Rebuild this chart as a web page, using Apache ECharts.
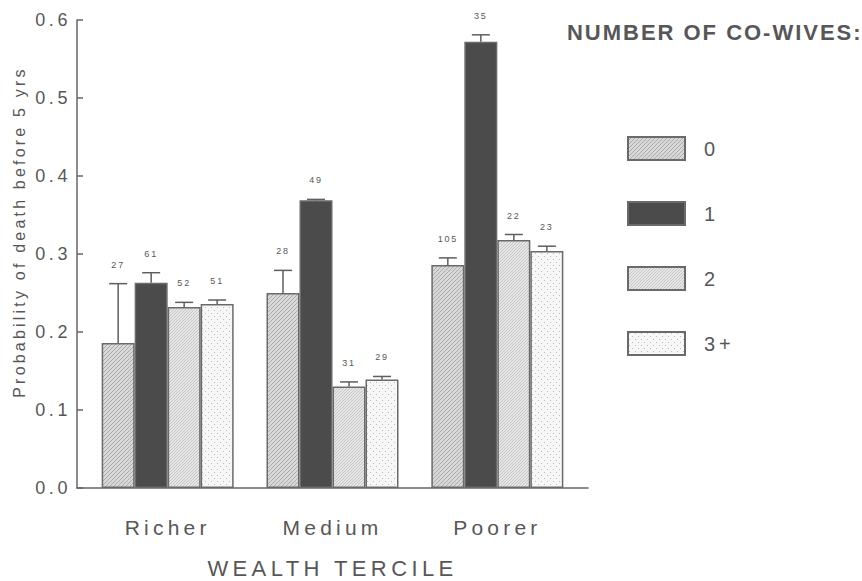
<!DOCTYPE html>
<html>
<head>
<meta charset="utf-8">
<script src="https://cdn.jsdelivr.net/npm/echarts@6/dist/echarts.min.js"></script>
<style>
  html, body { margin: 0; padding: 0; background: #ffffff; }
  #chart { width: 862px; height: 581px; }
  /* the typeset labels are widely tracked */
  #chart text { letter-spacing: 0.2em; }
</style>
</head>
<body>
<div id="chart"></div>
<script>
// Wealth terciles on the x axis (positions 0, 1, 2)
const categories = ['Richer', 'Medium', 'Poorer'];
const tercilePos = [0, 1, 2];
// Number of co-wives groups
const coWives = ['0', '1', '2', '3+'];

// Probability of death before 5 years
const prob0 = [0.186, 0.250, 0.286];
const prob1 = [0.263, 0.369, 0.572];
const prob2 = [0.232, 0.130, 0.318];
const prob3 = [0.236, 0.139, 0.304];

// Upper end of the error bars
const upper0 = [0.262, 0.279, 0.295];
const upper1 = [0.276, 0.370, 0.581];
const upper2 = [0.238, 0.136, 0.325];
const upper3 = [0.241, 0.143, 0.310];

// Sample sizes printed above each bar
const n0 = [27, 28, 105];
const n1 = [61, 49, 35];
const n2 = [52, 31, 22];
const n3 = [51, 29, 23];

const yTicks = [0.0, 0.1, 0.2, 0.3, 0.4, 0.5, 0.6];

const titleText = 'NUMBER OF CO-WIVES:';
const yName = 'Probability of death before 5 yrs';
const xName = 'WEALTH TERCILE';

const probs = [prob0, prob1, prob2, prob3];
const uppers = [upper0, upper1, upper2, upper3];
const counts = [n0, n1, n2, n3];

const BAR_W = 33;
const INK = '#575757';
const EDGE = '#6a6a6a';
const FONT = '"Liberation Sans", Arial, Helvetica, sans-serif';

// Fill textures for the bars
function makeTile(w, h, draw) {
  const c = document.createElement('canvas');
  c.width = w; c.height = h;
  draw(c.getContext('2d'), w, h);
  return { image: c.toDataURL(), repeat: 'repeat', imageWidth: w, imageHeight: h };
}
const hatchFine = makeTile(4, 4, (ctx, w, h) => {
  ctx.fillStyle = '#d8d8d8'; ctx.fillRect(0, 0, w, h);
  ctx.strokeStyle = '#ababab'; ctx.lineWidth = 1;
  ctx.beginPath();
  ctx.moveTo(-1, 5); ctx.lineTo(5, -1);
  ctx.moveTo(-1, 1); ctx.lineTo(1, -1);
  ctx.moveTo(3, 5); ctx.lineTo(5, 3);
  ctx.stroke();
});
const hatchLight = makeTile(6, 6, (ctx, w, h) => {
  ctx.fillStyle = '#e6e6e6'; ctx.fillRect(0, 0, w, h);
  ctx.strokeStyle = '#c6c6c6'; ctx.lineWidth = 1;
  ctx.beginPath();
  ctx.moveTo(-1, 7); ctx.lineTo(7, -1);
  ctx.moveTo(-1, 4); ctx.lineTo(4, -1);
  ctx.moveTo(2, 7); ctx.lineTo(7, 2);
  ctx.stroke();
});
const dots = makeTile(6, 6, (ctx, w, h) => {
  ctx.fillStyle = '#f7f7f7'; ctx.fillRect(0, 0, w, h);
  ctx.fillStyle = '#bcbcbc';
  ctx.fillRect(1, 1, 1, 1);
  ctx.fillRect(4, 4, 1, 1);
});
const fills = [hatchFine, '#4b4b4b', hatchLight, dots];

const barSeries = coWives.map((name, i) => ({
  name: name,
  type: 'bar',
  barWidth: BAR_W,
  barGap: '0%',
  z: 2,
  itemStyle: { color: fills[i], borderColor: EDGE, borderWidth: 1.5 },
  data: tercilePos.map((x, k) => [x, probs[i][k]])
}));

function errorRenderer(i) {
  return function (params, api) {
    const x = api.value(0);
    const base = api.coord([x, api.value(1)]);
    const top = api.coord([x, api.value(2)]);
    const cx = base[0] + (i - 1.5) * BAR_W;
    const st = { stroke: '#5e5e5e', lineWidth: 1.5 };
    return {
      type: 'group',
      children: [
        { type: 'line', shape: { x1: cx, y1: base[1], x2: cx, y2: top[1] }, style: st },
        { type: 'line', shape: { x1: cx - 9, y1: top[1], x2: cx + 9, y2: top[1] }, style: st },
        {
          type: 'text',
          style: {
            text: String(api.value(3)), x: cx, y: top[1] - 19,
            align: 'center', verticalAlign: 'middle',
            font: '9px ' + FONT, fill: INK
          }
        }
      ]
    };
  };
}

const errSeries = coWives.map((name, i) => ({
  name: 'err' + name,
  type: 'custom',
  z: 3,
  renderItem: errorRenderer(i),
  data: tercilePos.map((x, k) => [x, probs[i][k], uppers[i][k], counts[i][k]])
}));

const chart = echarts.init(document.getElementById('chart'), null, { renderer: 'svg' });
chart.setOption({
  animation: false,
  backgroundColor: '#ffffff',
  title: {
    text: titleText,
    left: 562, top: 16,
    textStyle: { fontFamily: FONT, fontWeight: 'bold', fontSize: 22, color: INK }
  },
  legend: {
    data: coWives,
    orient: 'vertical',
    left: 622, top: 131,
    itemWidth: 57, itemHeight: 23, itemGap: 40,
    icon: 'rect',
    selectedMode: false,
    textStyle: { fontFamily: FONT, fontSize: 20, color: INK, padding: [9, 0, 0, 14] }
  },
  grid: { left: 77, right: 274, top: 20, bottom: 93, outerBoundsMode: 'none', containLabel: false },
  xAxis: {
    type: 'value',
    min: -0.55, max: 2.55,
    name: xName,
    nameLocation: 'middle',
    nameGap: 69,
    nameTextStyle: { fontFamily: FONT, fontSize: 22, color: INK },
    splitLine: { show: false },
    axisLine: { show: true, onZero: false, lineStyle: { color: '#666666', width: 1.5 } },
    axisTick: { show: false },
    axisLabel: {
      customValues: tercilePos,
      formatter: (v) => categories[Math.round(v)],
      margin: 29,
      fontFamily: FONT, fontSize: 21, color: INK
    }
  },
  yAxis: {
    type: 'value',
    min: 0, max: 0.6, interval: 0.1,
    splitLine: { show: false },
    axisLine: { show: true, onZero: false, lineStyle: { color: '#666666', width: 1.5 } },
    axisTick: { show: true, inside: true, length: 6, lineStyle: { color: '#666666', width: 1.5 } },
    axisLabel: {
      customValues: yTicks,
      formatter: (v) => v.toFixed(1),
      margin: 6,
      fontFamily: FONT, fontSize: 18, color: INK
    }
  },
  graphic: [{
    type: 'text',
    x: 19, y: 232,
    rotation: Math.PI / 2,
    style: {
      text: yName, align: 'center', verticalAlign: 'middle',
      font: '16px ' + FONT, fill: INK
    }
  }],
  series: barSeries.concat(errSeries)
});

// The heading is set with tighter tracking than the other labels
function tuneTracking() {
  document.querySelectorAll('#chart text').forEach((t) => {
    if (t.textContent === titleText) t.style.letterSpacing = '0.09em';
  });
}
tuneTracking();
chart.on('finished', tuneTracking);
</script>
</body>
</html>
